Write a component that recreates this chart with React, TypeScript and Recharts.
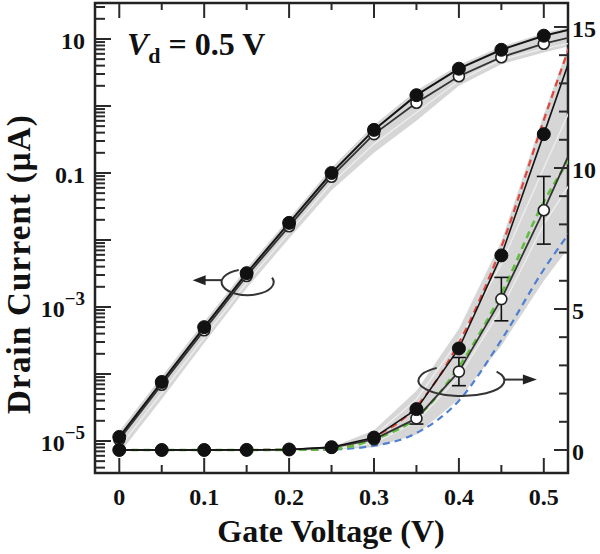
import React from 'react';
import { ComposedChart, Line, Area, XAxis, YAxis, ReferenceArea, ReferenceDot, ErrorBar } from 'recharts';

// ---------- data ----------
const VG = [0, 0.05, 0.1, 0.15, 0.2, 0.25, 0.3, 0.35, 0.4, 0.45, 0.5, 0.53];
const FILLED = [1.15e-5, 7.6e-5, 5.0e-4, 3.2e-3, 1.8e-2, 0.1, 0.44, 1.45, 3.6, 6.9, 11.2, 13.8];
const OPEN = [1.05e-5, 6.9e-5, 4.5e-4, 2.9e-3, 1.6e-2, 0.088, 0.38, 1.12, 2.78, 5.35, 8.5, 10.5];
const OPEN_ERR = [null, null, null, null, null, null, null, 0.2, 0.5, 0.77, 1.2, null];
const RED = [0, 0, 0, 0, 0.005, 0.03, 0.47, 1.55, 3.8, 7.2, 11.7, 14.3];
const GREEN = [0, 0, 0, 0, 0.005, 0.03, 0.38, 1.15, 2.95, 5.55, 8.8, 10.3];
const BLUE = [0, 0, 0, 0, 0.004, 0.02, 0.15, 0.6, 1.75, 3.9, 6.4, 7.7];
const LOG_LOW = [6.5e-6, 4.2e-5, 2.9e-4, 1.9e-3, 1.05e-2, 0.055, 0.2, 0.6, 2.0, 4.2, 6.3, 7.8];
const LOG_HIGH = [1.4e-5, 9.2e-5, 6.0e-4, 3.8e-3, 2.1e-2, 0.12, 0.52, 1.7, 4.1, 7.7, 12.3, 15.0];
const LOG_SIM = [8e-6, 5.2e-5, 3.5e-4, 2.3e-3, 1.3e-2, 0.07, 0.27, 0.8, 2.4, 4.9, 7.2, 8.6];
const LIN_LOW = [0, 0, 0, 0, 0, 0, 0.1, 0.55, 1.8, 3.7, 6.0, 7.2];
const LIN_HIGH = [0, 0, 0, 0, 0.02, 0.1, 0.7, 2.1, 4.3, 7.4, 11.9, 14.4];
const LIN_SIM1 = [0, 0, 0, 0, 0, 0.01, 0.25, 1.0, 2.6, 5.0, 8.0, 9.4];
const LIN_SIM2 = [0, 0, 0, 0, 0, 0.02, 0.5, 1.8, 3.9, 6.6, 10.0, 12.0];

const X_TICKS = [0, 0.05, 0.1, 0.15, 0.2, 0.25, 0.3, 0.35, 0.4, 0.45, 0.5];
const X_LABELS = ['0', '0.1', '0.2', '0.3', '0.4', '0.5'];
const LOG_DECADES = [-6, -5, -4, -3, -2, -1, 0, 1];
const LOG_LABELED: Record<string, [string, string]> = {
  '1': ['10', ''],
  '-1': ['0.1', ''],
  '-3': ['10', '\u22123'],
  '-5': ['10', '\u22125'],
};
const LIN_TICKS = [0, 1, 2, 3, 4, 5, 6, 7, 8, 9, 10, 11, 12, 13, 14, 15];
const LIN_LABELS = ['0', '5', '10', '15'];

// ---------- layout ----------
const W = 600;
const H = 554;
const PL = 95;
const PR = 568;
const PT = 3;
const PB = 473;
const X_MIN = -0.0286;
const X_MAX = 0.5285;
const LOG_MIN = Math.pow(10, -5.478);
const LOG_MAX = Math.pow(10, 1.537);
const R_MIN = -0.816;
const R_MAX = 15.85;

const FONT = '"Liberation Serif", "Times New Roman", Times, serif';
const TICK_COLOR = '#2a2a2a';
const TEXT_COLOR = '#111';

const LOG_TICKS: number[] = [];
LOG_DECADES.forEach((d) => {
  for (let m = 1; m <= 9; m++) {
    const v = m * Math.pow(10, d);
    if (v >= LOG_MIN && v <= LOG_MAX) LOG_TICKS.push(v);
  }
});

const data = VG.map((v, i) => ({
  v,
  filled: FILLED[i],
  open: OPEN[i],
  err: OPEN_ERR[i],
  red: RED[i],
  green: GREEN[i],
  blue: BLUE[i],
  logBand: [LOG_LOW[i], LOG_HIGH[i]],
  logSim: LOG_SIM[i],
  linBand: [LIN_LOW[i], LIN_HIGH[i]],
  linSim1: LIN_SIM1[i],
  linSim2: LIN_SIM2[i],
}));

// ---------- ticks ----------
const BottomTick = (props: any) => {
  const { x, payload } = props;
  const v = payload.value as number;
  const k = Math.round(v * 10);
  const major = Math.abs(v * 10 - k) < 1e-6;
  const lb = major ? 15 : 8;
  const lt = major ? 15 : 7;
  return (
    <g>
      <line x1={x} x2={x} y1={PB} y2={PB - lb} stroke={TICK_COLOR} strokeWidth={2} />
      <line x1={x} x2={x} y1={PT} y2={PT + lt} stroke={TICK_COLOR} strokeWidth={2} />
      {major && (
        <text x={x} y={505} textAnchor="middle" fontFamily={FONT} fontWeight="bold" fontSize={24} fill={TEXT_COLOR}>
          {X_LABELS[k]}
        </text>
      )}
    </g>
  );
};

const LeftTick = (props: any) => {
  const { y, payload } = props;
  const v = payload.value as number;
  const lg = Math.log10(v);
  const e = Math.round(lg);
  const decade = Math.abs(lg - e) < 1e-6;
  const len = decade ? 16 : 10;
  const lab = decade ? LOG_LABELED[String(e)] : undefined;
  return (
    <g>
      <line x1={PL} x2={PL + len} y1={y} y2={y} stroke={TICK_COLOR} strokeWidth={2} />
      {lab && (
        <text x={PL - 10} y={y + 10} textAnchor="end" fontFamily={FONT} fontWeight="bold" fontSize={24} fill={TEXT_COLOR}>
          <tspan>{lab[0]}</tspan>
          {lab[1] && (
            <tspan fontSize={19} dy={-12}>
              {lab[1]}
            </tspan>
          )}
        </text>
      )}
    </g>
  );
};

const RightTick = (props: any) => {
  const { y, payload } = props;
  const v = payload.value as number;
  const major = v % 5 === 0;
  const len = major ? 14 : 9;
  return (
    <g>
      <line x1={PR} x2={PR - len} y1={y} y2={y} stroke={TICK_COLOR} strokeWidth={2} />
      {major && (
        <text x={PR + 4} y={y + 10} textAnchor="start" fontFamily={FONT} fontWeight="bold" fontSize={24} fill={TEXT_COLOR}>
          {LIN_LABELS[v / 5]}
        </text>
      )}
    </g>
  );
};

// ---------- dots ----------
const makeDot = (prefix: string, kind: 'filled' | 'open') => (p: any) => {
  const key = `${prefix}-${p.index}`;
  if (p.payload == null || p.payload.v > 0.5 + 1e-9 || p.cx == null || p.cy == null) return <g key={key} />;
  if (kind === 'filled') return <circle key={key} cx={p.cx} cy={p.cy} r={6.5} fill="#111" stroke="#111" strokeWidth={1} />;
  return <circle key={key} cx={p.cx} cy={p.cy} r={5.5} fill="#fff" stroke="#222" strokeWidth={1.6} />;
};

// ---------- annotations ----------
const arcPath = (cx: number, cy: number, rx: number, ry: number, a1: number, a2: number) => {
  const r1 = (a1 * Math.PI) / 180;
  const r2 = (a2 * Math.PI) / 180;
  const x1 = cx + rx * Math.cos(r1);
  const y1 = cy + ry * Math.sin(r1);
  const x2 = cx + rx * Math.cos(r2);
  const y2 = cy + ry * Math.sin(r2);
  const large = Math.abs(a1 - a2) > 180 ? 1 : 0;
  const sweep = a2 > a1 ? 1 : 0;
  return `M${x1},${y1} A${rx},${ry} 0 ${large} ${sweep} ${x2},${y2}`;
};

const LeftAnnot = (p: any) => {
  const { cx, cy } = p;
  if (cx == null) return <g />;
  const ay = cy + 7;
  return (
    <g>
      <path d={arcPath(cx + 1, cy + 9, 26, 13, 250, -20)} fill="none" stroke="#333" strokeWidth={2} />
      <line x1={cx - 25} y1={ay} x2={cx - 42} y2={ay} stroke="#333" strokeWidth={2} />
      <polygon points={`${cx - 54},${ay} ${cx - 41},${ay - 5} ${cx - 41},${ay + 5}`} fill="#222" />
    </g>
  );
};

const RightAnnot = (p: any) => {
  const { cx, cy } = p;
  if (cx == null) return <g />;
  const ay = cy + 8;
  return (
    <g>
      <path d={arcPath(cx + 2.5, cy + 9, 43, 15.5, 235, -35)} fill="none" stroke="#333" strokeWidth={2} />
      <line x1={cx + 45} y1={ay} x2={cx + 66} y2={ay} stroke="#333" strokeWidth={2} />
      <polygon points={`${cx + 78},${ay} ${cx + 64},${ay - 5} ${cx + 64},${ay + 5}`} fill="#222" />
    </g>
  );
};

export default function App() {
  return (
    <div style={{ position: 'absolute', left: 0, top: 0, width: W, height: H, background: '#fff' }}>
      <ComposedChart width={W} height={H} data={data} margin={{ top: PT, right: 0, bottom: 0, left: 0 }}>
        <XAxis
          dataKey="v"
          type="number"
          domain={[X_MIN, X_MAX]}
          allowDataOverflow
          ticks={X_TICKS}
          interval={0}
          tick={(p: any) => <BottomTick {...p} />}
          tickLine={false}
          axisLine={false}
          tickSize={0}
          height={H - PB}
        />
        <YAxis
          yAxisId="log"
          orientation="left"
          type="number"
          scale="log"
          domain={[LOG_MIN, LOG_MAX]}
          allowDataOverflow
          ticks={LOG_TICKS}
          interval={0}
          tick={(p: any) => <LeftTick {...p} />}
          tickLine={false}
          axisLine={false}
          tickSize={0}
          width={PL}
        />
        <YAxis
          yAxisId="lin"
          orientation="right"
          type="number"
          domain={[R_MIN, R_MAX]}
          allowDataOverflow
          ticks={LIN_TICKS}
          interval={0}
          tick={(p: any) => <RightTick {...p} />}
          tickLine={false}
          axisLine={false}
          tickSize={0}
          width={W - PR}
        />

        {/* uncertainty bands */}
        <Area yAxisId="log" dataKey="logBand" type="linear" fill="#d6d6d6" fillOpacity={1} stroke="none" isAnimationActive={false} />
        <Area yAxisId="lin" dataKey="linBand" type="linear" fill="#d6d6d6" fillOpacity={1} stroke="none" isAnimationActive={false} />
        <Line yAxisId="log" dataKey="logSim" type="linear" stroke="#ededed" strokeWidth={1.4} dot={false} isAnimationActive={false} />
        <Line yAxisId="lin" dataKey="linSim1" type="linear" stroke="#ededed" strokeWidth={1.4} dot={false} isAnimationActive={false} />
        <Line yAxisId="lin" dataKey="linSim2" type="linear" stroke="#ededed" strokeWidth={1.4} dot={false} isAnimationActive={false} />

        {/* model curves (linear axis) */}
        <Line yAxisId="lin" dataKey="blue" type="monotone" stroke="#4f7fcf" strokeWidth={2.2} strokeDasharray="7 5" dot={false} isAnimationActive={false} />
        <Line yAxisId="lin" dataKey="red" type="monotone" stroke="#e0463e" strokeWidth={2.2} strokeDasharray="7 5" dot={false} isAnimationActive={false} />
        <Line yAxisId="lin" dataKey="green" type="monotone" stroke="#5fbf3f" strokeWidth={2.6} strokeDasharray="7 5" dot={false} isAnimationActive={false} />

        {/* open circles */}
        <Line yAxisId="log" dataKey="open" type="linear" stroke="#333" strokeWidth={1.8} dot={makeDot('ol', 'open')} activeDot={false} isAnimationActive={false} />
        <Line yAxisId="lin" dataKey="open" type="linear" stroke="#333" strokeWidth={1.8} dot={makeDot('on', 'open')} activeDot={false} isAnimationActive={false}>
          <ErrorBar dataKey="err" width={7} stroke="#111" strokeWidth={1.6} direction="y" isAnimationActive={false} />
        </Line>

        {/* filled circles */}
        <Line yAxisId="log" dataKey="filled" type="linear" stroke="#151515" strokeWidth={2} dot={makeDot('fl', 'filled')} activeDot={false} isAnimationActive={false} />
        <Line yAxisId="lin" dataKey="filled" type="linear" stroke="#151515" strokeWidth={1.6} dot={makeDot('fn', 'filled')} activeDot={false} isAnimationActive={false} />

        {/* frame */}
        <ReferenceArea yAxisId="lin" x1={X_MIN} x2={X_MAX} y1={R_MIN} y2={R_MAX} fill="none" fillOpacity={0} stroke="#222" strokeWidth={2.5} ifOverflow="visible" />

        {/* axis-assignment markers */}
        <ReferenceDot yAxisId="log" x={VG[3]} y={FILLED[3]} ifOverflow="visible" shape={(p: any) => <LeftAnnot {...p} />} />
        <ReferenceDot yAxisId="lin" x={VG[8]} y={OPEN[8]} ifOverflow="visible" shape={(p: any) => <RightAnnot {...p} />} />
      </ComposedChart>

      <svg width={W} height={H} style={{ position: 'absolute', left: 0, top: 0, pointerEvents: 'none' }}>
        <text x={127} y={55} fontFamily={FONT} fontWeight="bold" fontSize={32} fill={TEXT_COLOR}>
          <tspan fontStyle="italic">V</tspan>
          <tspan fontSize={22} dy={8}>d</tspan>
          <tspan dy={-8}>{' = 0.5 V'}</tspan>
        </text>
        <text x={331} y={542} textAnchor="middle" fontFamily={FONT} fontWeight="bold" fontSize={32} fill={TEXT_COLOR}>
          Gate Voltage (V)
        </text>
        <text
          x={30}
          y={264}
          transform="rotate(-90 30 264)"
          textAnchor="middle"
          fontFamily={FONT}
          fontWeight="bold"
          fontSize={33}
          letterSpacing={1.2}
          fill={TEXT_COLOR}
        >
          Drain Current (μA)
        </text>
      </svg>
    </div>
  );
}
